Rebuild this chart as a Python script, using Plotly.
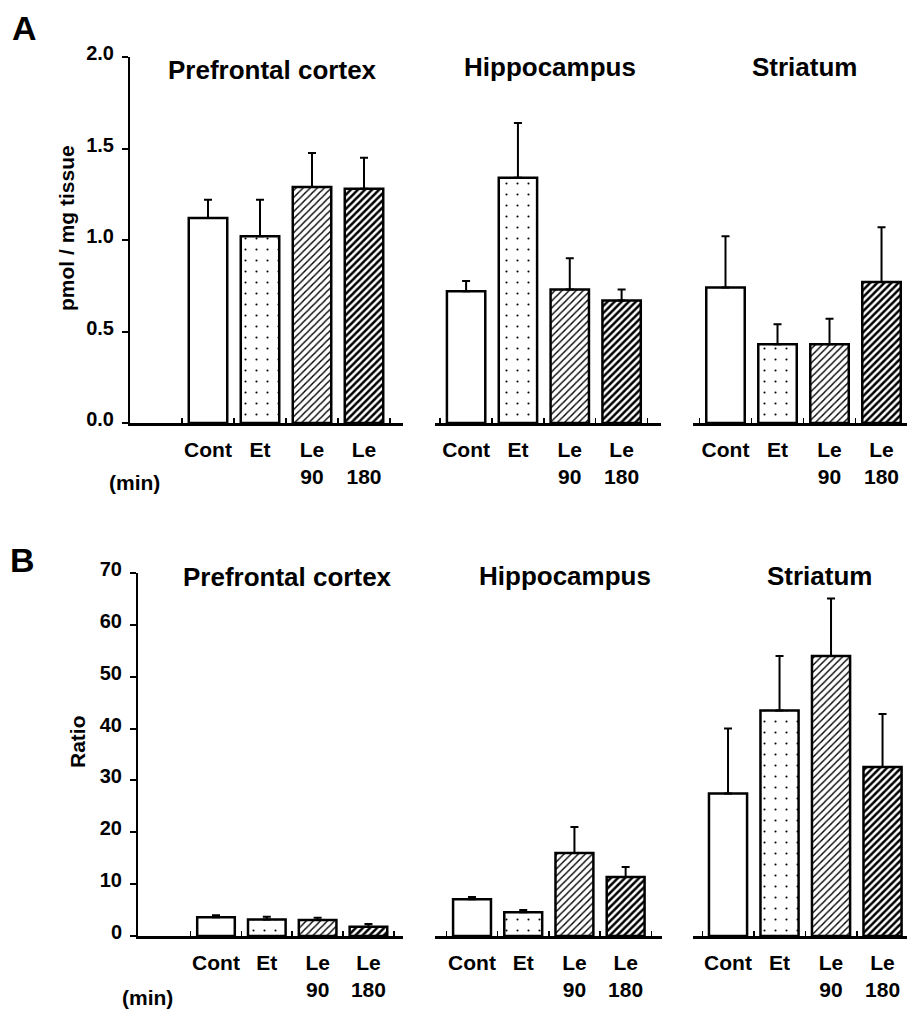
import plotly.graph_objects as go

# ---------------- data ----------------
categories = ["Cont", "Et", "Le<br>90", "Le<br>180"]
regions = ["Prefrontal cortex", "Hippocampus", "Striatum"]

# Panel A : pmol / mg tissue
a_prefrontal = [1.12, 1.02, 1.29, 1.28]
a_prefrontal_err = [0.10, 0.20, 0.185, 0.17]
a_hippocampus = [0.72, 1.34, 0.73, 0.67]
a_hippocampus_err = [0.056, 0.30, 0.17, 0.06]
a_striatum = [0.74, 0.43, 0.43, 0.77]
a_striatum_err = [0.28, 0.11, 0.14, 0.30]

# Panel B : ratio
b_prefrontal = [3.6, 3.2, 3.1, 1.8]
b_prefrontal_err = [0.4, 0.5, 0.4, 0.5]
b_hippocampus = [7.1, 4.6, 16.0, 11.4]
b_hippocampus_err = [0.4, 0.4, 5.0, 1.9]
b_striatum = [27.5, 43.5, 54.0, 32.6]
b_striatum_err = [12.5, 10.5, 11.1, 10.2]

a_ticks = [0.0, 0.5, 1.0, 1.5, 2.0]
b_ticks = [0, 10, 20, 30, 40, 50, 60, 70]

# ---------------- styling ----------------
W, H = 907, 1010
FONT = "Liberation Sans"
pat_shape = ["", ".", "/", "/"]
pat_solidity = [0.2, 0.03, 0.28, 0.5]
pat_size = [8, 11, 5, 5]

def px(x):
    return x / W

def py(y):
    return 1 - y / H

# subplot geometry (pixels): x domain, y domain, x range
panels = [
    dict(vals=a_prefrontal, err=a_prefrontal_err, xd=(130, 403), yd=(423, 57), xr=(-0.5, 4.75), yr=(0, 2.0)),
    dict(vals=a_hippocampus, err=a_hippocampus_err, xd=(435, 661), yd=(423, 57), xr=(0.40, 4.76), yr=(0, 2.0)),
    dict(vals=a_striatum, err=a_striatum_err, xd=(693, 907), yd=(423, 57), xr=(0.375, 4.49), yr=(0, 2.0)),
    dict(vals=b_prefrontal, err=b_prefrontal_err, xd=(138, 403), yd=(936, 573), xr=(-0.535, 4.68), yr=(0, 70)),
    dict(vals=b_hippocampus, err=b_hippocampus_err, xd=(435, 662), yd=(936, 573), xr=(0.277, 4.71), yr=(0, 70)),
    dict(vals=b_striatum, err=b_striatum_err, xd=(693, 907), yd=(936, 573), xr=(0.32, 4.475), yr=(0, 70)),
]

fig = go.Figure()
xpos = [1, 2, 3, 4]

for i, p in enumerate(panels):
    n = i + 1
    xa = "x" if n == 1 else f"x{n}"
    ya = "y" if n == 1 else f"y{n}"
    fig.add_trace(go.Bar(
        x=xpos, y=p["vals"], xaxis=xa, yaxis=ya, width=0.74,
        marker=dict(
            color="white",
            line=dict(color="black", width=2.5),
            pattern=dict(shape=pat_shape, solidity=pat_solidity, size=pat_size,
                         fgcolor="black", bgcolor="white", fillmode="replace"),
        ),
        error_y=dict(type="data", symmetric=False, array=p["err"],
                     arrayminus=[0, 0, 0, 0], color="black", thickness=2, width=4),
        showlegend=False, hoverinfo="skip",
    ))
    xkey = "xaxis" if n == 1 else f"xaxis{n}"
    ykey = "yaxis" if n == 1 else f"yaxis{n}"
    fig.layout[xkey] = dict(
        domain=[px(p["xd"][0]), min(1.0, px(p["xd"][1]))], range=list(p["xr"]),
        anchor=ya, showline=True, linecolor="black", linewidth=2.5,
        showgrid=False, zeroline=False, fixedrange=True, automargin=False,
        tickmode="array", tickvals=xpos, ticktext=categories, ticks="",
        tickfont=dict(family=FONT, size=21, color="black", weight="bold"),
        ticklabelstandoff=6,
        minor=dict(tickmode="array", tickvals=[0.5, 1.5, 2.5, 3.5, 4.5],
                   ticks="inside", ticklen=5, tickwidth=1.5, tickcolor="black"),
    )
    first = n in (1, 4)
    ydict = dict(
        domain=[py(p["yd"][0]), py(p["yd"][1])], range=list(p["yr"]),
        anchor=xa, showgrid=False, zeroline=False, fixedrange=True,
        automargin=False, visible=first,
    )
    if first:
        ydict.update(
            showline=True, linecolor="black", linewidth=2,
            ticks="outside", ticklen=6, tickwidth=2, tickcolor="black",
            tickmode="array",
            tickvals=a_ticks if n == 1 else b_ticks,
            tickformat=".1f" if n == 1 else "d",
            tickfont=dict(family=FONT, size=20, color="black", weight="bold"),
            ticklabelstandoff=4, ticklabelshift=-4,
        )
    fig.layout[ykey] = ydict

ann = []
def add_text(text, x, y, size, angle=0):
    ann.append(dict(text=text, x=px(x), y=py(y), xref="paper", yref="paper",
                    xanchor="center", yanchor="middle", showarrow=False,
                    textangle=angle,
                    font=dict(family=FONT, size=size, color="black", weight="bold")))

for name, x, y in zip(regions, [272, 550, 804], [70, 67, 67]):
    add_text(name, x, y, 26)
for name, x, y in zip(regions, [287, 565, 819], [577, 576, 576]):
    add_text(name, x, y, 26)

add_text("A", 24, 28, 34)
add_text("B", 22, 560, 34)
add_text("pmol / mg tissue", 67, 228, 21, -90)
add_text("Ratio", 77, 742, 21, -90)
add_text("(min)", 134, 482, 21)
add_text("(min)", 147, 997, 21)

fig.update_layout(
    width=W, height=H, margin=dict(l=0, r=0, t=0, b=0, autoexpand=False),
    paper_bgcolor="white", plot_bgcolor="white",
    annotations=ann, bargap=0,
)

fig.write_html(
    "out.html",
    config={"displayModeBar": False, "staticPlot": True},
    post_script="document.body.style.margin='0';document.body.style.overflow='hidden';",
)
